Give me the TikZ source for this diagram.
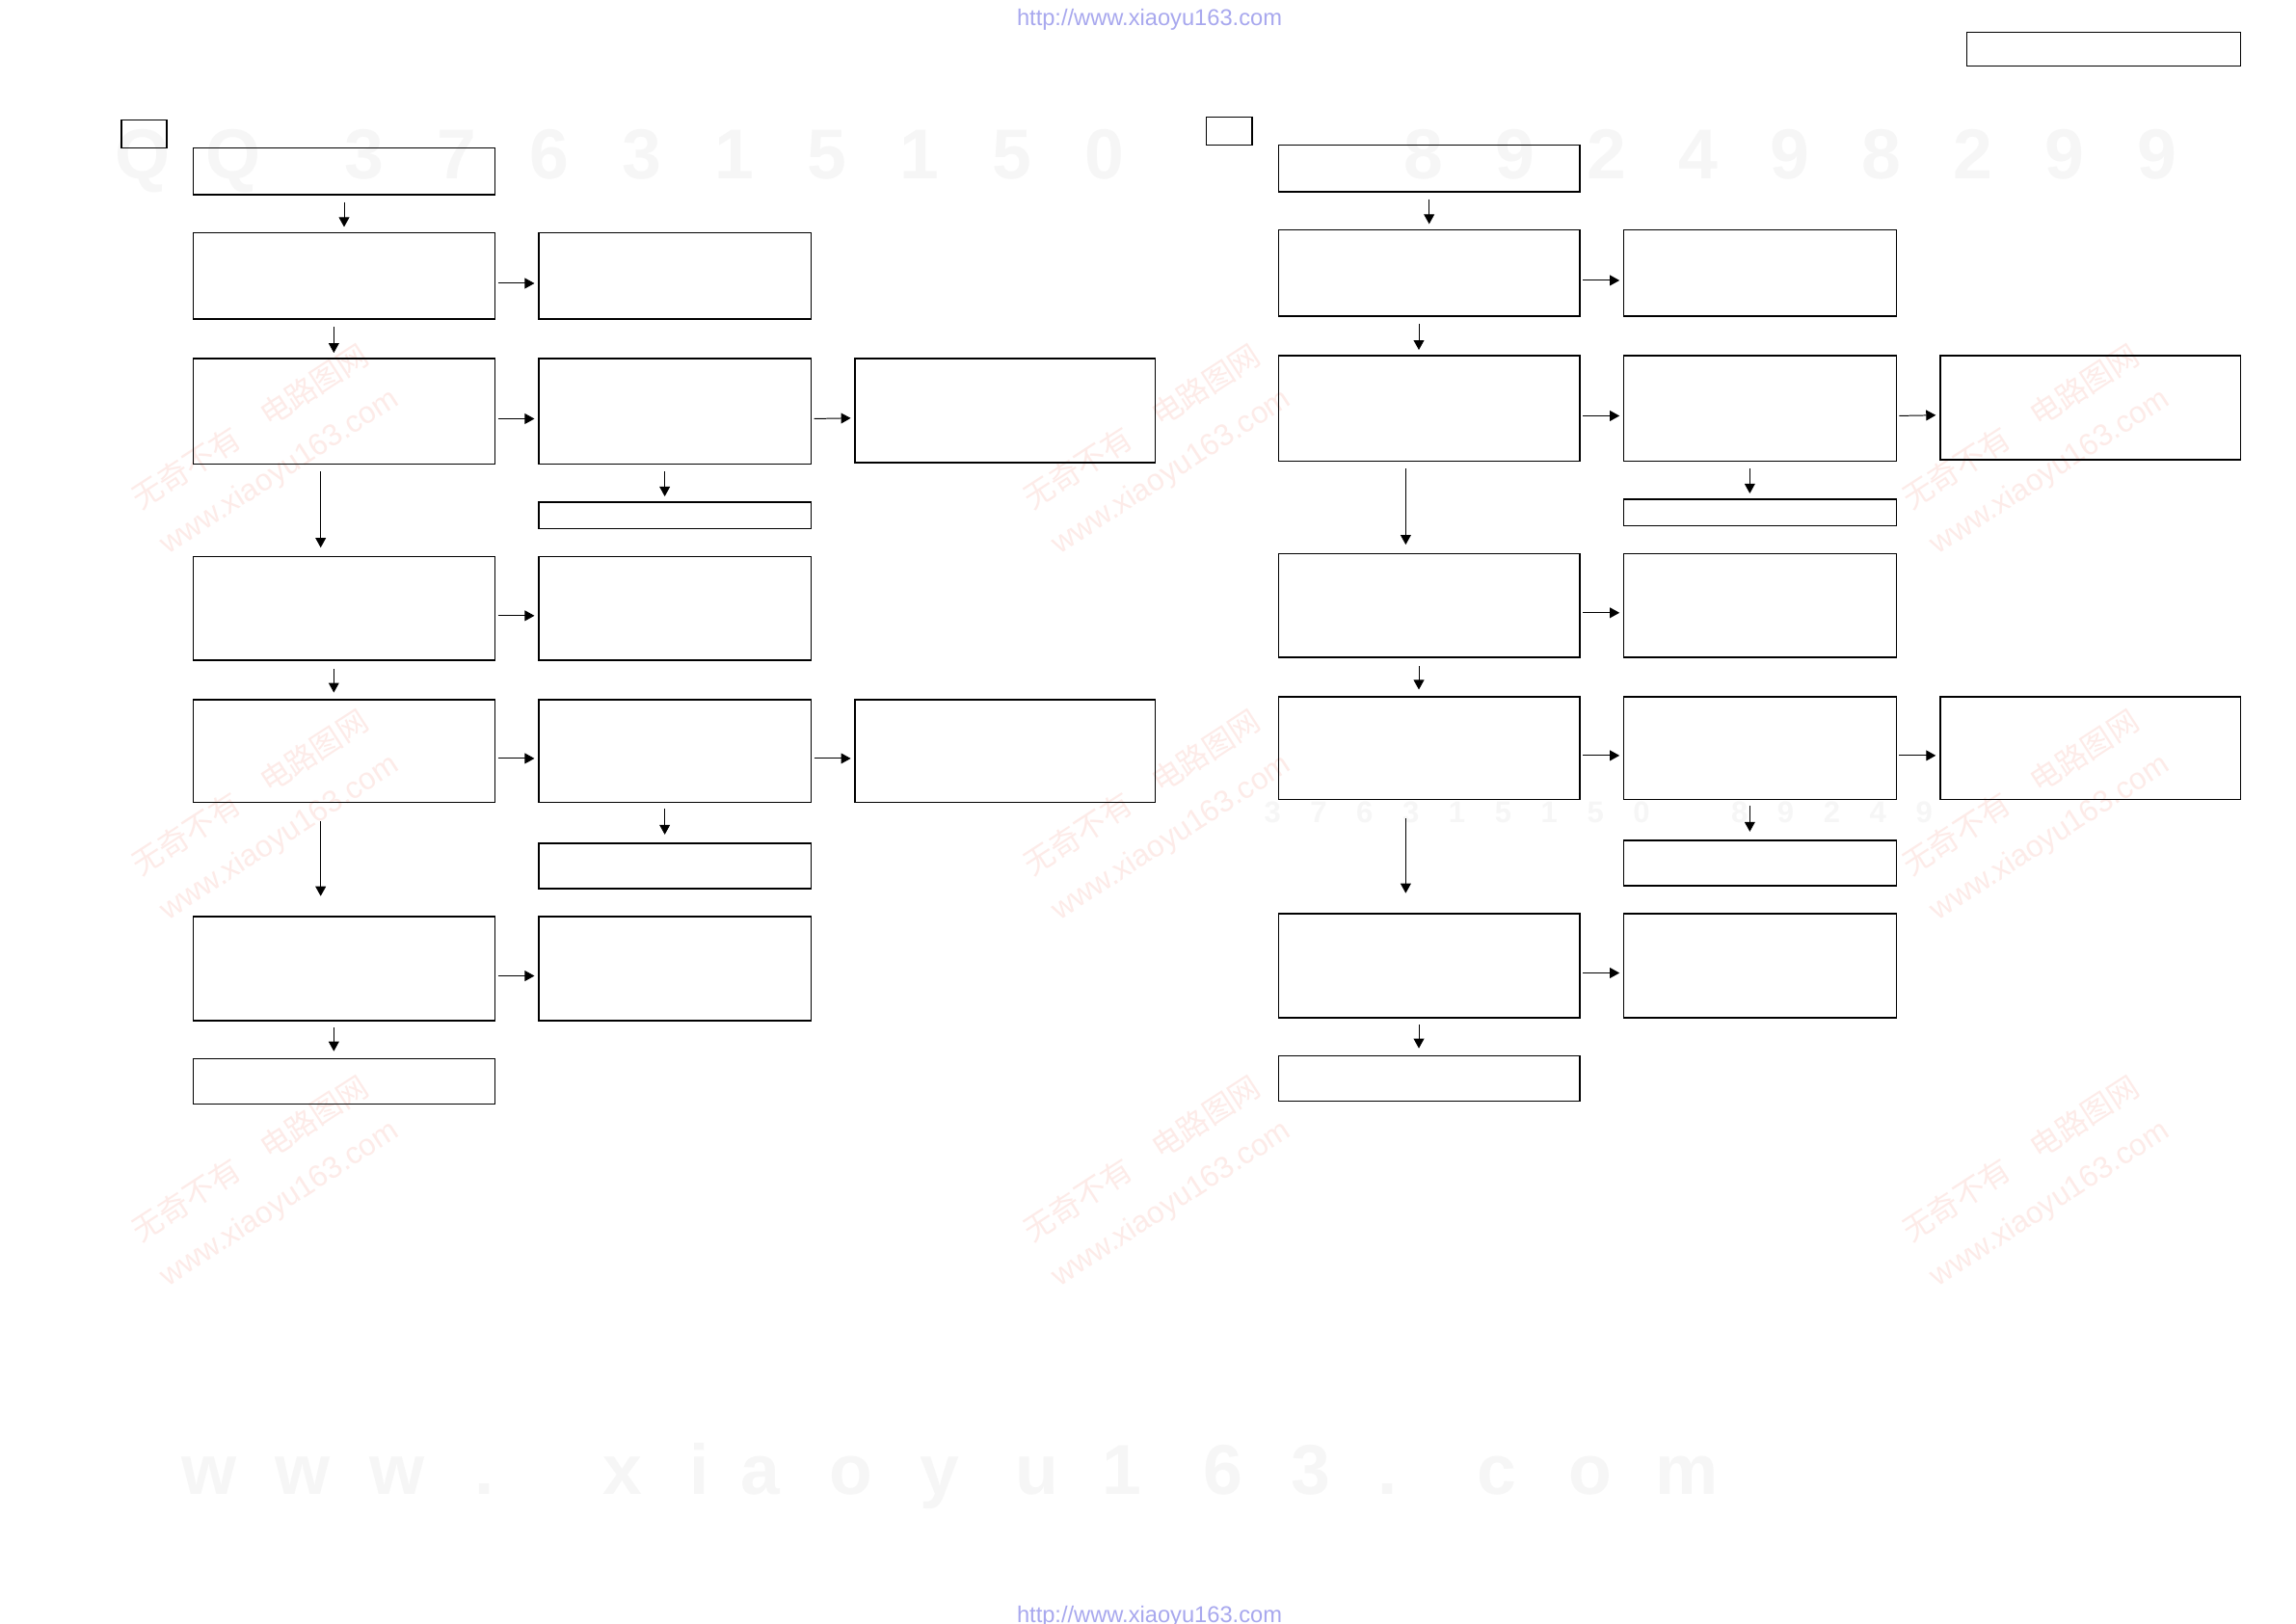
\documentclass[tikz,border=0pt]{standalone}
\usepackage{fontspec}
\setmainfont{Liberation Sans}
\newfontfamily\cjkfont{Noto Sans CJK SC}
\usetikzlibrary{arrows.meta}
\definecolor{urlblue}{RGB}{168,168,238}
\definecolor{wmred}{RGB}{253,235,232}
\definecolor{wmgrey}{RGB}{246,246,246}
\newcommand\pxu{0.18941mm}

\begin{document}
\begin{tikzpicture}[x=\pxu, y=-\pxu,
    box/.style={draw, line width=0.5pt, inner sep=0pt, outer sep=0pt, anchor=north west},
    darr/.style={-{Triangle[length=1.25mm, width=1.35mm]}, line width=0.35pt},
    rarr/.style={darr, shorten <=0.38mm, shorten >=0.57mm},
    wmark/.style={text=wmred, rotate=33, align=center, font=\fontsize{11.2}{19}\selectfont},
    bigmark/.style={text=wmgrey, anchor=base, font=\fontsize{26}{26}\selectfont\bfseries},
    midmark/.style={bigmark, font=\fontsize{11}{11}\selectfont\bfseries},
    url/.style={text=urlblue, anchor=base, font=\fontsize{8.4}{10}\selectfont}]
  \path[fill=white] (0,0) rectangle (1568,1109);
  \useasboundingbox (0,0) rectangle (1568,1109);

  % watermarks
  \foreach \wx in {181,790,1390} {
    \foreach \wy in {307,557,807} {
      \node[wmark] at (\wx,\wy) {{\cjkfont 无奇不有\quad 电路图网}\\www.xiaoyu163.com};
    }
  }
  \foreach \ch/\cx in {Q/97.5, Q/159, 3/248.5, 7/311.7, 6/374.9, 3/438.1, 1/501.3, 5/564.5,
                       1/627.7, 5/690.9, 0/754.1, 8/972, 9/1034.6, 2/1097.2, 4/1159.8,
                       9/1222.4, 8/1285, 2/1347.6, 9/1410.2, 9/1472.8}
    \node[bigmark] at (\cx,122) {\ch};
  \foreach \ch/\cx in {3/869, 7/900.5, 6/932, 3/963.5, 1/995, 5/1026.5, 1/1058, 5/1089.5,
                       0/1121, 8/1188, 9/1219.5, 2/1251, 4/1282.5, 9/1314}
    \node[midmark] at (\cx,561.5) {\ch};
  \foreach \ch/\cx in {w/143, w/207, w/271, ./331, x/425, i/478, a/519.6, o/581, y/642,
                       u/708, 1/766, 6/835, 3/895, ./948, c/1022, o/1086, m/1152}
    \node[bigmark] at (\cx,1020.5) {\ch};
  \node[url] (urltop) at (785,17.5) {http://www.xiaoyu163.com};
  \node[url] (urlbot) at (785,1108.5) {http://www.xiaoyu163.com};

  \node[box, minimum width={187*\pxu}, minimum height={23*\pxu}] (tag) at (1343,22) {};

  % two flow charts
  \foreach \s/\dx/\dy in {L/0/0, R/741/-2} {
    \begin{scope}[shift={(\dx,\dy)}]
      \foreach \n/\xa/\ya/\xb/\yb in {k/83/82/114/101, a1/132/101/338/133,
          a2/132/159/338/218, b2/368/159/554/218,
          a3/132/245/338/317, b3/368/245/554/317, c3/584/245/789/316, d3/368/343/554/361,
          a4/132/380/338/451, b4/368/380/554/451,
          a5/132/478/338/548, b5/368/478/554/548, c5/584/478/789/548, d5/368/576/554/607,
          a6/132/626/338/697, b6/368/626/554/697, a7/132/723/338/754}
        \node[box, minimum width={(\xb-\xa)*\pxu}, minimum height={(\yb-\ya)*\pxu}] (\s\n) at (\xa,\ya) {};
      \foreach \p/\q/\sx/\sa/\sb in {a1/a2/0/0.95/0.76, a2/a3/-1.33/0.95/0.76,
          a3/a4/-3.03/0.95/1.14, a4/a5/-1.33/1.14/0.95, a5/a6/-3.03/2.46/2.65,
          a6/a7/-1.33/0.95/0.95, b3/d3/-1.33/0.95/0.76, b5/d5/-1.33/0.76/1.14}
        \draw[darr, shorten <=\sa mm, shorten >=\sb mm] ([xshift=\sx mm]\s\p.south) -- ([xshift=\sx mm]\s\q.north);
      \foreach \p/\q in {a2/b2, a3/b3, b3/c3, a4/b4, a5/b5, b5/c5, a6/b6}
        \draw[rarr] ([yshift=-0.95mm]\s\p.east) -- ([yshift=-0.95mm]\s\q.west);
    \end{scope}
  }
\end{tikzpicture}
\end{document}
